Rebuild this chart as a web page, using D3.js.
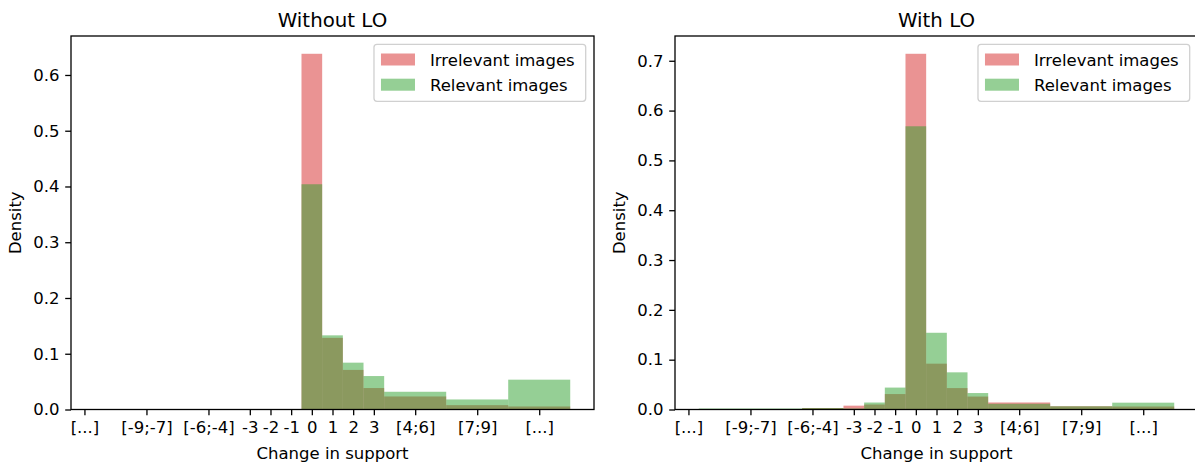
<!DOCTYPE html>
<html>
<head>
<meta charset="utf-8">
<script src="https://cdn.jsdelivr.net/npm/d3@7"></script>
<style>
  body { margin: 0; background: #fff; }
  svg { display: block; font-family: "DejaVu Sans", sans-serif; }
</style>
</head>
<body>
<svg id="chart" width="1195" height="466"></svg>
<script>
// bin edges of "change in support", same for both panels
const binEdges = [-10.5, -5.5, -3.5, -2.5, -1.5, -0.5, 0.5, 1.5, 2.5, 3.5, 6.5, 9.5, 12.5];
const tickValues = [-11, -8, -5, -3, -2, -1, 0, 1, 2, 3, 5, 8, 11];
const tickLabels = ["[...]", "[-9;-7]", "[-6;-4]", "-3", "-2", "-1", "0", "1", "2", "3", "[4;6]", "[7;9]", "[...]"];

// densities, one value per bin
const withoutIrrelevant = [0, 0, 0, 0, 0, 0.638, 0.1285, 0.071, 0.0385, 0.0234, 0.0078, 0.0054];
const withoutRelevant = [0, 0, 0, 0, 0, 0.404, 0.133, 0.084, 0.060, 0.0318, 0.018, 0.0535];
const withIrrelevant = [0.0005, 0.003, 0.0077, 0.010, 0.031, 0.714, 0.092, 0.043, 0.026, 0.0141, 0.0065, 0.006];
const withRelevant = [0.002, 0.003, 0.002, 0.014, 0.044, 0.5685, 0.154, 0.0746, 0.033, 0.0115, 0.0065, 0.0137];

const seriesNames = ["Irrelevant images", "Relevant images"];
const seriesColors = ["#d62728", "#2ca02c"];

const svg = d3.select("#chart");
const fs = 16.5;

function panel(left, title, irrelevant, relevant) {
  const width = 523, top = 36, bottom = 409.5;
  const span = binEdges[binEdges.length - 1] - binEdges[0];
  const x = d3.scaleLinear()
    .domain([binEdges[0] - span * 0.05, binEdges[binEdges.length - 1] + span * 0.05])
    .range([left, left + width]);
  const yMax = d3.max(irrelevant.concat(relevant)) * 1.05;
  const y = d3.scaleLinear().domain([0, yMax]).range([bottom, top]);

  const g = svg.append("g");

  [irrelevant, relevant].forEach((vals, k) => {
    g.append("g")
      .selectAll("rect")
      .data(vals.map((v, i) => ({ v: v, a: binEdges[i], b: binEdges[i + 1] })).filter(d => d.v > 0))
      .enter()
      .append("rect")
      .attr("x", d => x(d.a))
      .attr("width", d => x(d.b) - x(d.a))
      .attr("y", d => y(d.v))
      .attr("height", d => y(0) - y(d.v))
      .attr("fill", seriesColors[k])
      .attr("fill-opacity", 0.5);
  });

  const xAxis = g.append("g")
    .attr("transform", `translate(0,${bottom})`)
    .call(d3.axisBottom(x).tickValues(tickValues)
      .tickFormat((d, i) => tickLabels[i])
      .tickSize(5.8).tickPadding(5.8).tickSizeOuter(0));
  const yAxis = g.append("g")
    .attr("transform", `translate(${left},0)`)
    .call(d3.axisLeft(y).tickValues(d3.range(0, yMax, 0.1))
      .tickFormat(d3.format(".1f"))
      .tickSize(5.8).tickPadding(5.8).tickSizeOuter(0));
  [xAxis, yAxis].forEach(a => {
    a.select(".domain").remove();
    a.attr("font-size", fs).attr("font-family", "DejaVu Sans");
    a.selectAll("line").attr("stroke-width", 1.3);
  });

  // frame
  g.append("rect")
    .attr("x", left).attr("y", top)
    .attr("width", width).attr("height", bottom - top)
    .attr("fill", "none").attr("stroke", "#000").attr("stroke-width", 1.3);

  g.append("text")
    .attr("x", left + width / 2).attr("y", 27)
    .attr("text-anchor", "middle").attr("font-size", 19.8)
    .text(title);
  g.append("text")
    .attr("x", left + width / 2).attr("y", 459)
    .attr("text-anchor", "middle").attr("font-size", fs)
    .text("Change in support");
  g.append("text")
    .attr("transform", `translate(${left - 50},${(top + bottom) / 2}) rotate(-90)`)
    .attr("text-anchor", "middle").attr("font-size", fs)
    .text("Density");

  // legend
  const right = left + width - 8.3;
  const lg = g.append("g");
  const box = lg.append("rect")
    .attr("y", top + 8.3).attr("height", 57)
    .attr("rx", 3)
    .attr("fill", "#fff").attr("fill-opacity", 0.8)
    .attr("stroke", "#d0d0d0").attr("stroke-width", 1.3);
  let tw = 0;
  seriesNames.forEach((name, k) => {
    const t = lg.append("text")
      .attr("y", top + 24 + k * 25.2 + 5.8)
      .attr("font-size", fs)
      .text(name);
    tw = Math.max(tw, t.node().getComputedTextLength());
  });
  const bx = right - (tw + 67);
  box.attr("x", bx).attr("width", tw + 67);
  lg.selectAll("text").attr("x", bx + 56);
  seriesNames.forEach((name, k) => {
    lg.append("rect")
      .attr("x", bx + 7).attr("y", top + 17.5 + k * 25.2)
      .attr("width", 34).attr("height", 12)
      .attr("fill", seriesColors[k]).attr("fill-opacity", 0.5);
  });
}

panel(71, "Without LO", withoutIrrelevant, withoutRelevant);
panel(675, "With LO", withIrrelevant, withRelevant);
</script>
</body>
</html>
